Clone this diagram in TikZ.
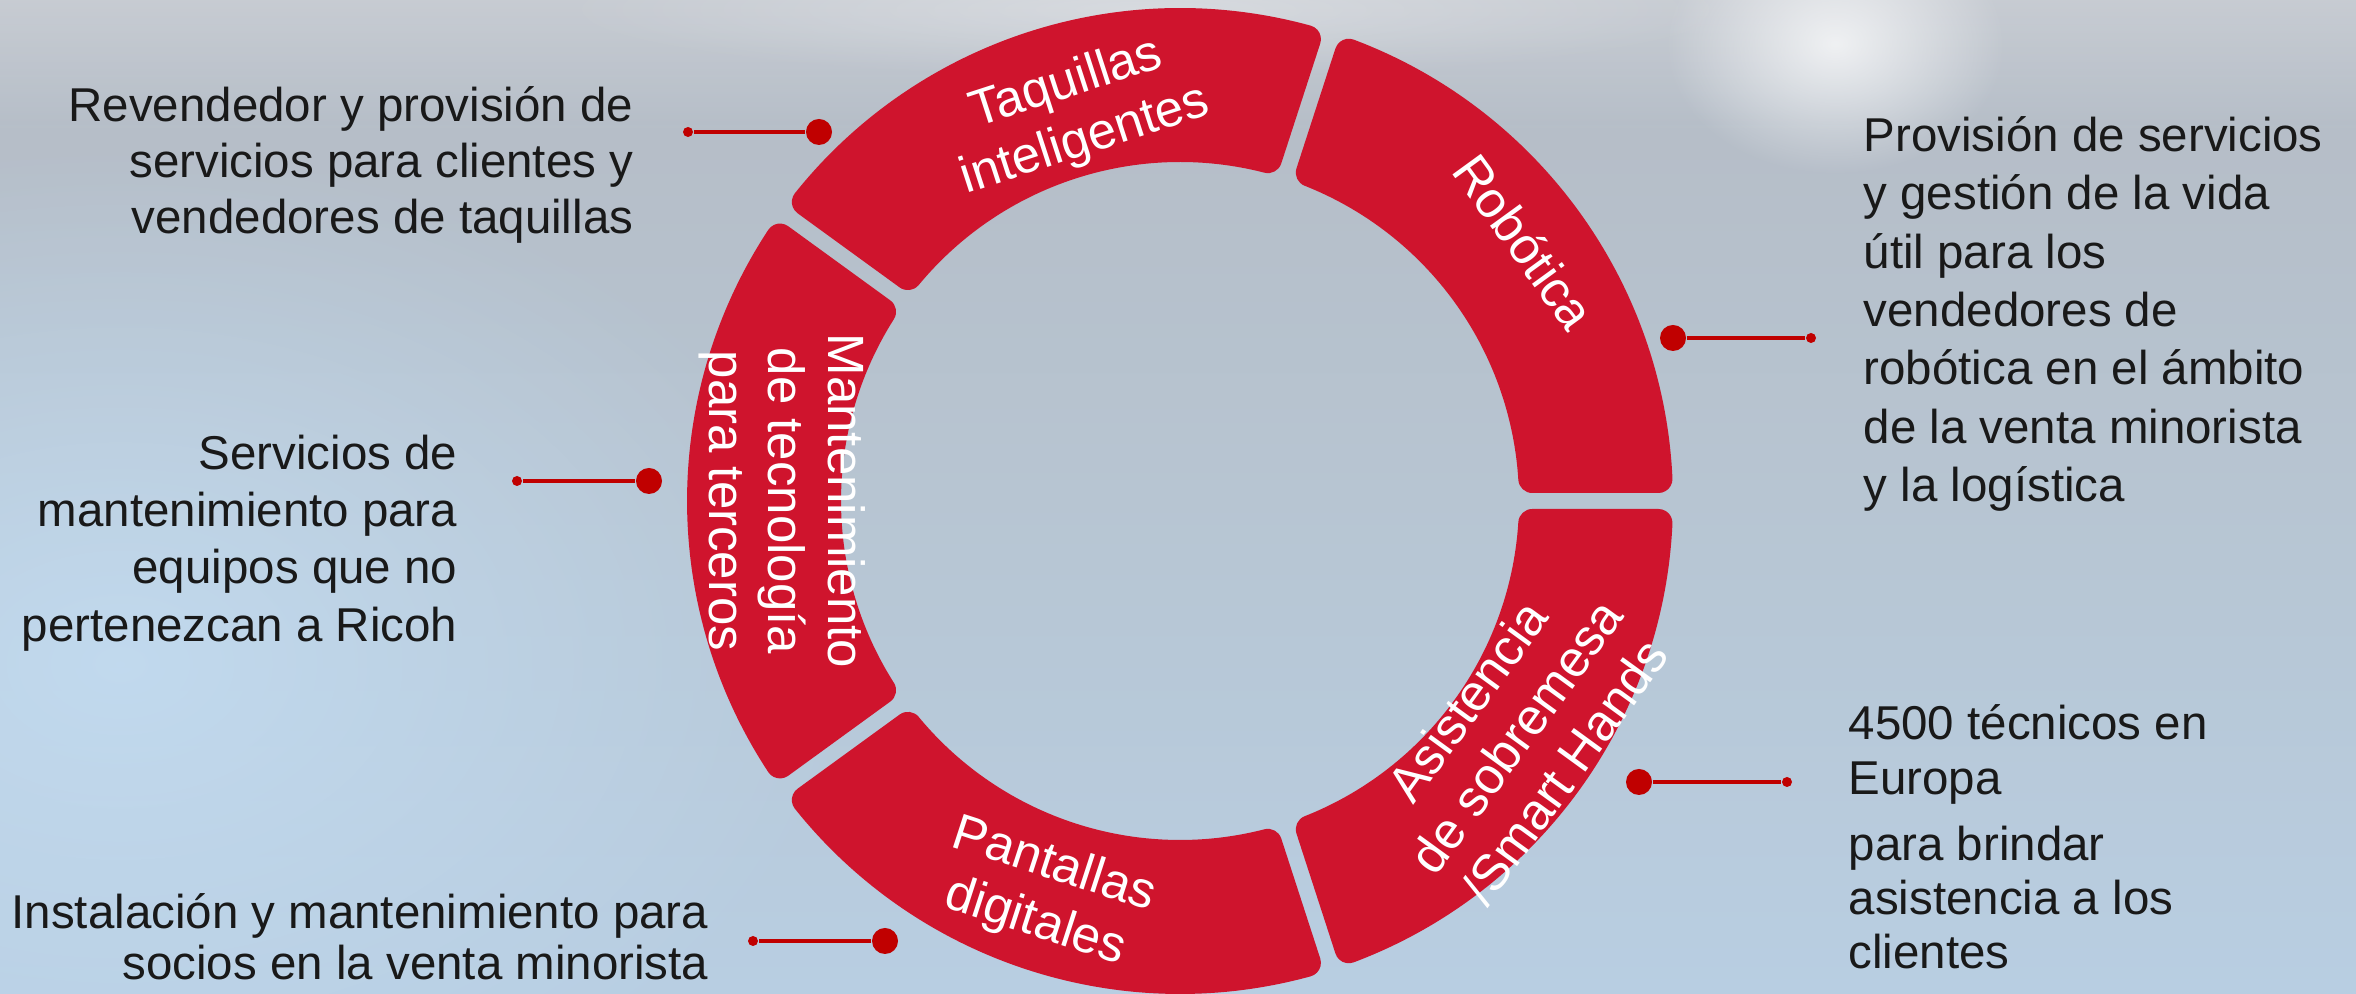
\documentclass[tikz,border=0pt]{standalone}
\usepackage{fontspec}
\setmainfont{Liberation Sans}
\usetikzlibrary{fadings}
\definecolor{segred}{RGB}{207,20,45}
\definecolor{dotred}{RGB}{192,0,0}
\definecolor{bgtop}{RGB}{181,187,196}
\definecolor{bgmid}{RGB}{183,197,210}
\definecolor{bgbot}{RGB}{184,206,226}
\definecolor{bgleft}{RGB}{196,222,244}
\definecolor{txt}{RGB}{25,25,25}
\tikzfading[name=softglow, inner color=transparent!0, outer color=transparent!100]
\tikzfading[name=fadedown, top color=transparent!0, bottom color=transparent!100]
% ring geometry (pixel units)
\def\RRo{493}\def\RRi{339}\def\Rf{14}
\def\dO{2.632}\def\dI{3.573}
\def\eO{0.958}\def\LO{478.56}
\def\eI{1.301}\def\LI{352.40}
\newcommand\ringseg[2]{%
  \fill[segfill] ({#1+\dO}:\RRo) arc[start angle={#1+\dO}, end angle={#2-\dO}, radius=\RRo]
    arc[start angle={#2-\dO}, end angle={#2+90}, radius=\Rf]
    -- ({#2-\eI}:\LI)
    arc[start angle={#2+90}, end angle={#2+180-\dI}, radius=\Rf]
    arc[start angle={#2-\dI}, end angle={#1+\dI}, radius=\RRi]
    arc[start angle={#1+\dI+180}, end angle={#1+270}, radius=\Rf]
    -- ({#1+\eO}:\LO)
    arc[start angle={#1-90}, end angle={#1+\dO}, radius=\Rf]
    -- cycle;}
\begin{document}
\begin{tikzpicture}[x=0.01cm,y=0.01cm,
  segfill/.style={fill=segred},
  ringtext/.style={text=white, align=center, inner sep=0pt, font=\fontsize{14.5}{17}\selectfont},
  sidetext/.style={text=txt, inner sep=0pt, font=\fontsize{13.5}{16}\selectfont},
  bigdot/.style={circle, fill=dotred, minimum size=0.26cm, inner sep=0pt},
  smalldot/.style={circle, fill=dotred, minimum size=0.10cm, inner sep=0pt},
  conn/.style={draw=dotred, line width=0.035cm}]
\useasboundingbox (0,0) rectangle (2356,994);
% background
\fill[top color=bgtop, bottom color=bgbot, middle color=bgmid] (0,0) rectangle (2356,994);
\fill[bgleft, path fading=softglow, fill opacity=0.8] (120,330) ellipse [x radius=750, y radius=520];
\fill[white, path fading=fadedown, fill opacity=0.25] (0,860) rectangle (2356,994);
\fill[white, path fading=softglow, fill opacity=0.75] (1835,950) ellipse [x radius=170, y radius=130];
\fill[white, path fading=softglow, fill opacity=0.3] (1150,985) ellipse [x radius=600, y radius=70];
% ring
\begin{scope}[shift={(1180,493)}]
  \ringseg{0}{72}
  \ringseg{72}{144}
  \ringseg{144}{216}
  \ringseg{216}{288}
  \ringseg{288}{360}
  \node[ringtext, rotate=18] (tq) at (105:402) {Taquillas\\inteligentes};
  \node[ringtext, rotate=-54] (rb) at (37:431) {Robótica};
  \node[ringtext, rotate=-90] (mt) at (180:398) {Mantenimiento\\de tecnología\\para terceros};
  \node[ringtext, rotate=-18] (pd) at (251:416) {Pantallas\\digitales};
  \node[ringtext, rotate=54] (as) at (325:410) {Asistencia\\de sobremesa\\/Smart Hands};
\end{scope}
% connectors
\node[bigdot] (b1) at (819,862) {};
\node[smalldot] (s1) at (688,862) {};
\draw[conn] (b1) -- (s1);
\node[bigdot] (b2) at (649,513) {};
\node[smalldot] (s2) at (517,513) {};
\draw[conn] (b2) -- (s2);
\node[bigdot] (b3) at (885,53) {};
\node[smalldot] (s3) at (753,53) {};
\draw[conn] (b3) -- (s3);
\node[bigdot] (b4) at (1673,656) {};
\node[smalldot] (s4) at (1811,656) {};
\draw[conn] (b4) -- (s4);
\node[bigdot] (b5) at (1639,212) {};
\node[smalldot] (s5) at (1787,212) {};
\draw[conn] (b5) -- (s5);
% side texts
\node[sidetext, anchor=east, align=right, font=\fontsize{13.5}{15.9}\selectfont] (t1) at (634,829)
  {Revendedor y provisión de\\servicios para clientes y\\vendedores de taquillas};
\node[sidetext, anchor=east, align=right, font=\fontsize{13.5}{16.3}\selectfont] (t2) at (458,451)
  {Servicios de\\mantenimiento para\\equipos que no\\pertenezcan a Ricoh};
\node[sidetext, anchor=east, align=right, font=\fontsize{13.5}{14.5}\selectfont] (t3) at (709,57)
  {Instalación y mantenimiento para\\socios en la venta minorista};
\node[sidetext, anchor=west, align=left, font=\fontsize{13.5}{16.6}\selectfont] (t4) at (1863,680)
  {Provisión de servicios\\y gestión de la vida\\útil para los\\vendedores de\\robótica en el ámbito\\de la venta minorista\\y la logística};
\node[sidetext, anchor=west, align=left, font=\fontsize{13.5}{15.4}\selectfont] (t5) at (1848,157)
  {4500 técnicos en\\Europa\\[3.4pt]para brindar\\asistencia a los\\clientes};
\end{tikzpicture}
\end{document}
